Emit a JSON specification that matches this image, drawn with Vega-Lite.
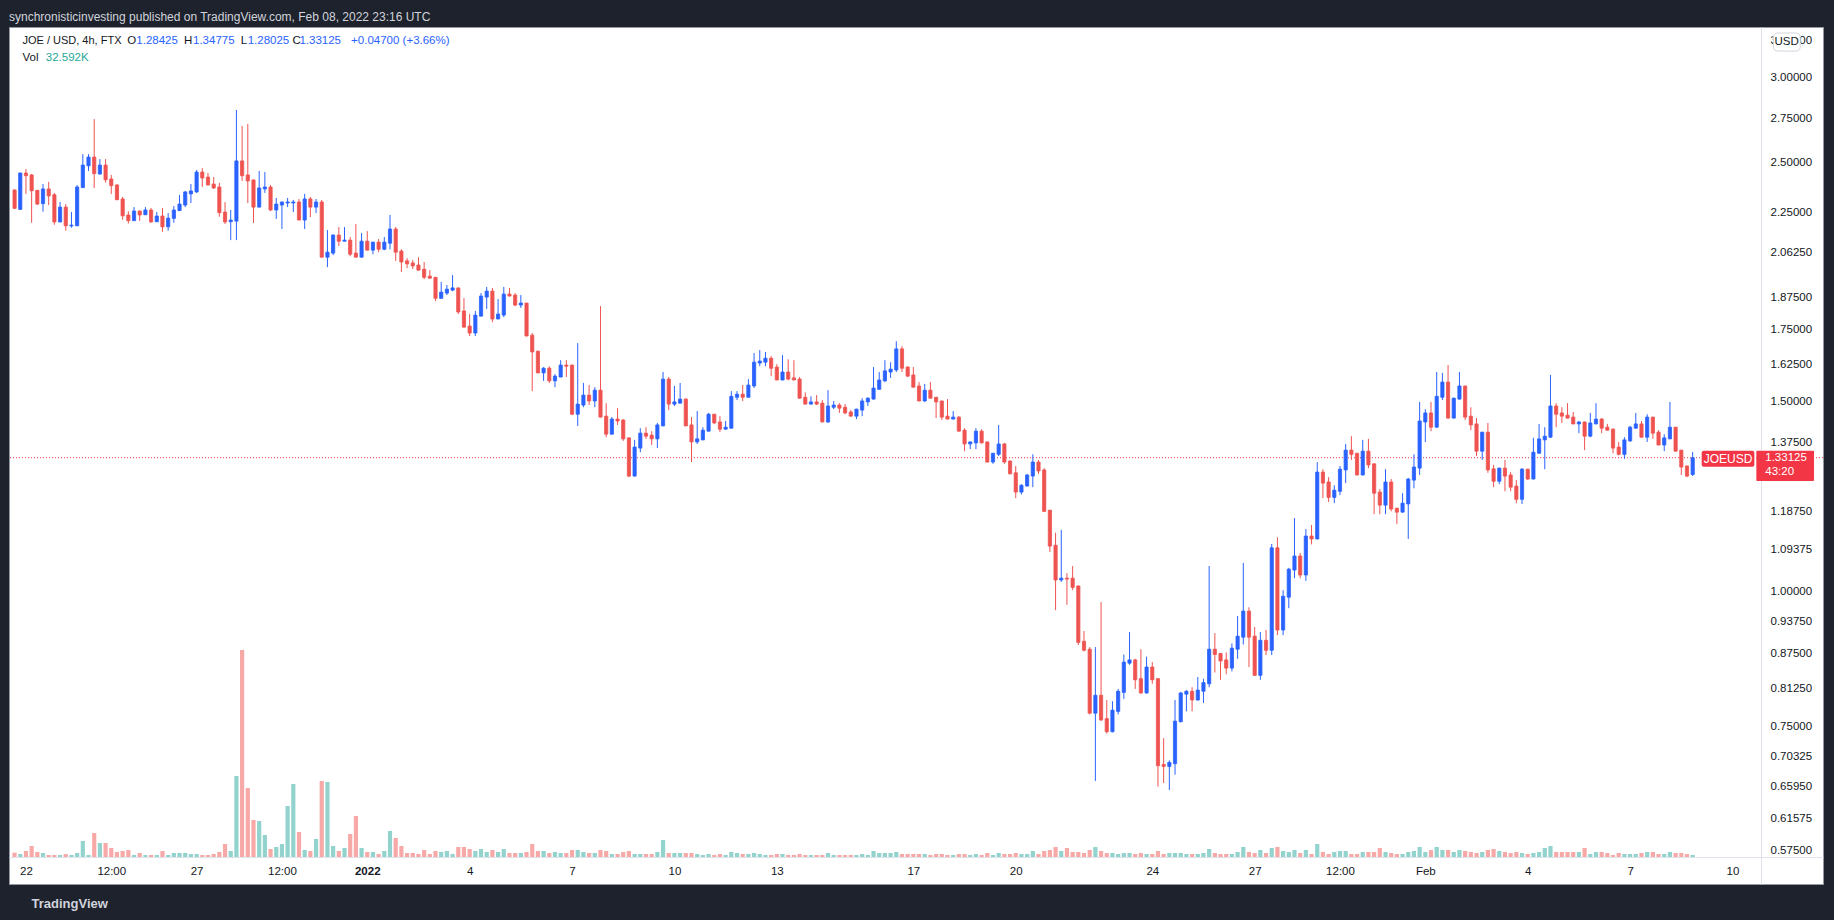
{
  "$schema": "https://vega.github.io/schema/vega-lite/v6.json",
  "width": 1814,
  "height": 857,
  "autosize": {"type": "none"},
  "padding": {"left": 9, "top": 27, "right": 11, "bottom": 36},
  "background": "#1e222d",
  "title": {
    "text": "synchronisticinvesting published on TradingView.com, Feb 08, 2022 23:16 UTC",
    "anchor": "start",
    "frame": "group",
    "offset": -2,
    "baseline": "middle",
    "color": "#d1d4dc",
    "fontSize": 12,
    "fontWeight": "normal"
  },
  "datasets": {
    "bars": [
      {"t":"2021-12-21T16:00Z","o":2.360,"h":2.362,"l":2.265,"c":2.269,"v":69},
      {"t":"2021-12-21T20:00Z","o":2.264,"h":2.449,"l":2.261,"c":2.447,"v":48},
      {"t":"2021-12-22T00:00Z","o":2.447,"h":2.468,"l":2.340,"c":2.433,"v":96},
      {"t":"2021-12-22T04:00Z","o":2.437,"h":2.442,"l":2.200,"c":2.356,"v":176},
      {"t":"2021-12-22T08:00Z","o":2.358,"h":2.360,"l":2.285,"c":2.290,"v":80},
      {"t":"2021-12-22T12:00Z","o":2.292,"h":2.390,"l":2.253,"c":2.365,"v":64},
      {"t":"2021-12-22T16:00Z","o":2.365,"h":2.401,"l":2.285,"c":2.330,"v":32},
      {"t":"2021-12-22T20:00Z","o":2.336,"h":2.345,"l":2.191,"c":2.204,"v":32},
      {"t":"2021-12-23T00:00Z","o":2.204,"h":2.300,"l":2.202,"c":2.275,"v":32},
      {"t":"2021-12-23T04:00Z","o":2.275,"h":2.290,"l":2.163,"c":2.186,"v":48},
      {"t":"2021-12-23T08:00Z","o":2.185,"h":2.251,"l":2.177,"c":2.189,"v":32},
      {"t":"2021-12-23T12:00Z","o":2.186,"h":2.385,"l":2.184,"c":2.375,"v":64},
      {"t":"2021-12-23T16:00Z","o":2.372,"h":2.548,"l":2.371,"c":2.489,"v":256},
      {"t":"2021-12-23T20:00Z","o":2.485,"h":2.548,"l":2.458,"c":2.532,"v":32},
      {"t":"2021-12-24T00:00Z","o":2.532,"h":2.746,"l":2.370,"c":2.444,"v":384},
      {"t":"2021-12-24T04:00Z","o":2.442,"h":2.521,"l":2.437,"c":2.489,"v":224},
      {"t":"2021-12-24T08:00Z","o":2.489,"h":2.521,"l":2.397,"c":2.412,"v":224},
      {"t":"2021-12-24T12:00Z","o":2.416,"h":2.437,"l":2.340,"c":2.382,"v":144},
      {"t":"2021-12-24T16:00Z","o":2.385,"h":2.390,"l":2.310,"c":2.311,"v":80},
      {"t":"2021-12-24T20:00Z","o":2.315,"h":2.325,"l":2.214,"c":2.233,"v":96},
      {"t":"2021-12-25T00:00Z","o":2.237,"h":2.255,"l":2.196,"c":2.210,"v":112},
      {"t":"2021-12-25T04:00Z","o":2.210,"h":2.275,"l":2.209,"c":2.256,"v":32},
      {"t":"2021-12-25T08:00Z","o":2.256,"h":2.258,"l":2.209,"c":2.237,"v":64},
      {"t":"2021-12-25T12:00Z","o":2.238,"h":2.275,"l":2.237,"c":2.261,"v":32},
      {"t":"2021-12-25T16:00Z","o":2.261,"h":2.271,"l":2.200,"c":2.204,"v":32},
      {"t":"2021-12-25T20:00Z","o":2.205,"h":2.251,"l":2.204,"c":2.232,"v":32},
      {"t":"2021-12-26T00:00Z","o":2.232,"h":2.271,"l":2.158,"c":2.181,"v":96},
      {"t":"2021-12-26T04:00Z","o":2.181,"h":2.246,"l":2.163,"c":2.222,"v":32},
      {"t":"2021-12-26T08:00Z","o":2.221,"h":2.280,"l":2.200,"c":2.261,"v":64},
      {"t":"2021-12-26T12:00Z","o":2.258,"h":2.335,"l":2.257,"c":2.290,"v":64},
      {"t":"2021-12-26T16:00Z","o":2.285,"h":2.355,"l":2.275,"c":2.350,"v":64},
      {"t":"2021-12-26T20:00Z","o":2.340,"h":2.390,"l":2.295,"c":2.355,"v":48},
      {"t":"2021-12-27T00:00Z","o":2.350,"h":2.463,"l":2.345,"c":2.452,"v":48},
      {"t":"2021-12-27T04:00Z","o":2.452,"h":2.473,"l":2.375,"c":2.421,"v":32},
      {"t":"2021-12-27T08:00Z","o":2.426,"h":2.447,"l":2.384,"c":2.385,"v":32},
      {"t":"2021-12-27T12:00Z","o":2.390,"h":2.426,"l":2.365,"c":2.370,"v":48},
      {"t":"2021-12-27T16:00Z","o":2.375,"h":2.396,"l":2.229,"c":2.248,"v":80},
      {"t":"2021-12-27T20:00Z","o":2.251,"h":2.300,"l":2.194,"c":2.204,"v":208},
      {"t":"2021-12-28T00:00Z","o":2.205,"h":2.261,"l":2.120,"c":2.213,"v":96},
      {"t":"2021-12-28T04:00Z","o":2.208,"h":2.800,"l":2.120,"c":2.511,"v":1296},
      {"t":"2021-12-28T08:00Z","o":2.511,"h":2.706,"l":2.406,"c":2.433,"v":3312},
      {"t":"2021-12-28T12:00Z","o":2.437,"h":2.718,"l":2.295,"c":2.406,"v":1104},
      {"t":"2021-12-28T16:00Z","o":2.411,"h":2.413,"l":2.199,"c":2.275,"v":592},
      {"t":"2021-12-28T20:00Z","o":2.275,"h":2.458,"l":2.274,"c":2.370,"v":576},
      {"t":"2021-12-29T00:00Z","o":2.365,"h":2.452,"l":2.345,"c":2.375,"v":352},
      {"t":"2021-12-29T04:00Z","o":2.375,"h":2.385,"l":2.256,"c":2.261,"v":128},
      {"t":"2021-12-29T08:00Z","o":2.261,"h":2.320,"l":2.218,"c":2.290,"v":160},
      {"t":"2021-12-29T12:00Z","o":2.285,"h":2.302,"l":2.171,"c":2.300,"v":208},
      {"t":"2021-12-29T16:00Z","o":2.295,"h":2.320,"l":2.275,"c":2.300,"v":816},
      {"t":"2021-12-29T20:00Z","o":2.295,"h":2.310,"l":2.251,"c":2.300,"v":1168},
      {"t":"2021-12-30T00:00Z","o":2.300,"h":2.315,"l":2.212,"c":2.213,"v":400},
      {"t":"2021-12-30T04:00Z","o":2.213,"h":2.340,"l":2.171,"c":2.315,"v":112},
      {"t":"2021-12-30T08:00Z","o":2.315,"h":2.325,"l":2.227,"c":2.275,"v":96},
      {"t":"2021-12-30T12:00Z","o":2.275,"h":2.315,"l":2.246,"c":2.300,"v":288},
      {"t":"2021-12-30T16:00Z","o":2.300,"h":2.310,"l":2.043,"c":2.044,"v":1216},
      {"t":"2021-12-30T20:00Z","o":2.044,"h":2.166,"l":2.001,"c":2.066,"v":1200},
      {"t":"2021-12-31T00:00Z","o":2.062,"h":2.147,"l":2.053,"c":2.143,"v":176},
      {"t":"2021-12-31T04:00Z","o":2.143,"h":2.180,"l":2.093,"c":2.115,"v":96},
      {"t":"2021-12-31T08:00Z","o":2.115,"h":2.180,"l":2.114,"c":2.120,"v":144},
      {"t":"2021-12-31T12:00Z","o":2.120,"h":2.134,"l":2.048,"c":2.057,"v":368},
      {"t":"2021-12-31T16:00Z","o":2.062,"h":2.194,"l":2.043,"c":2.044,"v":656},
      {"t":"2021-12-31T20:00Z","o":2.044,"h":2.152,"l":2.043,"c":2.115,"v":144},
      {"t":"2022-01-01T00:00Z","o":2.115,"h":2.161,"l":2.074,"c":2.075,"v":80},
      {"t":"2022-01-01T04:00Z","o":2.075,"h":2.112,"l":2.057,"c":2.111,"v":80},
      {"t":"2022-01-01T08:00Z","o":2.111,"h":2.125,"l":2.066,"c":2.079,"v":48},
      {"t":"2022-01-01T12:00Z","o":2.079,"h":2.134,"l":2.075,"c":2.111,"v":96},
      {"t":"2022-01-01T16:00Z","o":2.106,"h":2.237,"l":2.078,"c":2.171,"v":416},
      {"t":"2022-01-01T20:00Z","o":2.171,"h":2.180,"l":2.028,"c":2.066,"v":304},
      {"t":"2022-01-02T00:00Z","o":2.071,"h":2.079,"l":1.980,"c":2.023,"v":176},
      {"t":"2022-01-02T04:00Z","o":2.028,"h":2.040,"l":1.997,"c":2.015,"v":64},
      {"t":"2022-01-02T08:00Z","o":2.019,"h":2.032,"l":1.993,"c":2.006,"v":64},
      {"t":"2022-01-02T12:00Z","o":2.010,"h":2.044,"l":1.987,"c":1.988,"v":48},
      {"t":"2022-01-02T16:00Z","o":1.992,"h":2.023,"l":1.950,"c":1.958,"v":112},
      {"t":"2022-01-02T20:00Z","o":1.963,"h":1.988,"l":1.953,"c":1.954,"v":48},
      {"t":"2022-01-03T00:00Z","o":1.958,"h":1.959,"l":1.861,"c":1.872,"v":96},
      {"t":"2022-01-03T04:00Z","o":1.872,"h":1.939,"l":1.871,"c":1.897,"v":80},
      {"t":"2022-01-03T08:00Z","o":1.893,"h":1.926,"l":1.885,"c":1.909,"v":96},
      {"t":"2022-01-03T12:00Z","o":1.905,"h":1.967,"l":1.901,"c":1.914,"v":48},
      {"t":"2022-01-03T16:00Z","o":1.914,"h":1.915,"l":1.810,"c":1.818,"v":160},
      {"t":"2022-01-03T20:00Z","o":1.822,"h":1.873,"l":1.759,"c":1.760,"v":160},
      {"t":"2022-01-04T00:00Z","o":1.764,"h":1.810,"l":1.727,"c":1.738,"v":128},
      {"t":"2022-01-04T04:00Z","o":1.738,"h":1.822,"l":1.727,"c":1.806,"v":96},
      {"t":"2022-01-04T08:00Z","o":1.802,"h":1.893,"l":1.801,"c":1.881,"v":128},
      {"t":"2022-01-04T12:00Z","o":1.877,"h":1.918,"l":1.830,"c":1.901,"v":80},
      {"t":"2022-01-04T16:00Z","o":1.901,"h":1.914,"l":1.779,"c":1.791,"v":112},
      {"t":"2022-01-04T20:00Z","o":1.791,"h":1.869,"l":1.790,"c":1.810,"v":80},
      {"t":"2022-01-05T00:00Z","o":1.806,"h":1.918,"l":1.798,"c":1.889,"v":128},
      {"t":"2022-01-05T04:00Z","o":1.889,"h":1.914,"l":1.880,"c":1.881,"v":64},
      {"t":"2022-01-05T08:00Z","o":1.885,"h":1.893,"l":1.841,"c":1.845,"v":64},
      {"t":"2022-01-05T12:00Z","o":1.845,"h":1.885,"l":1.834,"c":1.853,"v":64},
      {"t":"2022-01-05T16:00Z","o":1.853,"h":1.854,"l":1.726,"c":1.727,"v":80},
      {"t":"2022-01-05T20:00Z","o":1.730,"h":1.738,"l":1.535,"c":1.669,"v":208},
      {"t":"2022-01-06T00:00Z","o":1.672,"h":1.673,"l":1.595,"c":1.596,"v":96},
      {"t":"2022-01-06T04:00Z","o":1.596,"h":1.616,"l":1.569,"c":1.612,"v":96},
      {"t":"2022-01-06T08:00Z","o":1.612,"h":1.619,"l":1.562,"c":1.569,"v":64},
      {"t":"2022-01-06T12:00Z","o":1.569,"h":1.592,"l":1.548,"c":1.585,"v":80},
      {"t":"2022-01-06T16:00Z","o":1.582,"h":1.640,"l":1.581,"c":1.623,"v":64},
      {"t":"2022-01-06T20:00Z","o":1.623,"h":1.640,"l":1.582,"c":1.619,"v":64},
      {"t":"2022-01-07T00:00Z","o":1.623,"h":1.624,"l":1.458,"c":1.461,"v":112},
      {"t":"2022-01-07T04:00Z","o":1.461,"h":1.701,"l":1.425,"c":1.493,"v":112},
      {"t":"2022-01-07T08:00Z","o":1.490,"h":1.562,"l":1.483,"c":1.522,"v":80},
      {"t":"2022-01-07T12:00Z","o":1.522,"h":1.555,"l":1.490,"c":1.503,"v":64},
      {"t":"2022-01-07T16:00Z","o":1.503,"h":1.548,"l":1.483,"c":1.538,"v":64},
      {"t":"2022-01-07T20:00Z","o":1.538,"h":1.841,"l":1.451,"c":1.452,"v":112},
      {"t":"2022-01-08T00:00Z","o":1.455,"h":1.496,"l":1.391,"c":1.400,"v":96},
      {"t":"2022-01-08T04:00Z","o":1.400,"h":1.452,"l":1.399,"c":1.446,"v":48},
      {"t":"2022-01-08T08:00Z","o":1.446,"h":1.480,"l":1.428,"c":1.440,"v":48},
      {"t":"2022-01-08T12:00Z","o":1.443,"h":1.446,"l":1.380,"c":1.386,"v":80},
      {"t":"2022-01-08T16:00Z","o":1.389,"h":1.390,"l":1.277,"c":1.280,"v":96},
      {"t":"2022-01-08T20:00Z","o":1.280,"h":1.383,"l":1.279,"c":1.362,"v":48},
      {"t":"2022-01-09T00:00Z","o":1.359,"h":1.418,"l":1.347,"c":1.403,"v":48},
      {"t":"2022-01-09T04:00Z","o":1.403,"h":1.421,"l":1.386,"c":1.394,"v":48},
      {"t":"2022-01-09T08:00Z","o":1.397,"h":1.409,"l":1.368,"c":1.386,"v":48},
      {"t":"2022-01-09T12:00Z","o":1.386,"h":1.434,"l":1.359,"c":1.428,"v":80},
      {"t":"2022-01-09T16:00Z","o":1.425,"h":1.599,"l":1.424,"c":1.575,"v":272},
      {"t":"2022-01-09T20:00Z","o":1.575,"h":1.582,"l":1.474,"c":1.493,"v":64},
      {"t":"2022-01-10T00:00Z","o":1.493,"h":1.552,"l":1.487,"c":1.500,"v":64},
      {"t":"2022-01-10T04:00Z","o":1.496,"h":1.562,"l":1.495,"c":1.509,"v":64},
      {"t":"2022-01-10T08:00Z","o":1.509,"h":1.512,"l":1.424,"c":1.425,"v":64},
      {"t":"2022-01-10T12:00Z","o":1.428,"h":1.452,"l":1.319,"c":1.377,"v":64},
      {"t":"2022-01-10T16:00Z","o":1.377,"h":1.471,"l":1.371,"c":1.386,"v":48},
      {"t":"2022-01-10T20:00Z","o":1.383,"h":1.421,"l":1.382,"c":1.412,"v":32},
      {"t":"2022-01-11T00:00Z","o":1.409,"h":1.465,"l":1.408,"c":1.461,"v":48},
      {"t":"2022-01-11T04:00Z","o":1.461,"h":1.462,"l":1.431,"c":1.434,"v":32},
      {"t":"2022-01-11T08:00Z","o":1.437,"h":1.455,"l":1.406,"c":1.415,"v":48},
      {"t":"2022-01-11T12:00Z","o":1.415,"h":1.440,"l":1.414,"c":1.421,"v":32},
      {"t":"2022-01-11T16:00Z","o":1.418,"h":1.535,"l":1.417,"c":1.518,"v":80},
      {"t":"2022-01-11T20:00Z","o":1.515,"h":1.535,"l":1.506,"c":1.525,"v":64},
      {"t":"2022-01-12T00:00Z","o":1.525,"h":1.555,"l":1.503,"c":1.515,"v":48},
      {"t":"2022-01-12T04:00Z","o":1.515,"h":1.575,"l":1.514,"c":1.555,"v":48},
      {"t":"2022-01-12T08:00Z","o":1.552,"h":1.665,"l":1.545,"c":1.633,"v":64},
      {"t":"2022-01-12T12:00Z","o":1.630,"h":1.676,"l":1.619,"c":1.637,"v":48},
      {"t":"2022-01-12T16:00Z","o":1.633,"h":1.669,"l":1.619,"c":1.647,"v":32},
      {"t":"2022-01-12T20:00Z","o":1.647,"h":1.654,"l":1.585,"c":1.612,"v":32},
      {"t":"2022-01-13T00:00Z","o":1.616,"h":1.626,"l":1.571,"c":1.572,"v":48},
      {"t":"2022-01-13T04:00Z","o":1.572,"h":1.658,"l":1.571,"c":1.599,"v":48},
      {"t":"2022-01-13T08:00Z","o":1.599,"h":1.643,"l":1.571,"c":1.575,"v":32},
      {"t":"2022-01-13T12:00Z","o":1.579,"h":1.640,"l":1.571,"c":1.572,"v":32},
      {"t":"2022-01-13T16:00Z","o":1.575,"h":1.582,"l":1.511,"c":1.512,"v":48},
      {"t":"2022-01-13T20:00Z","o":1.515,"h":1.531,"l":1.492,"c":1.493,"v":32},
      {"t":"2022-01-14T00:00Z","o":1.493,"h":1.518,"l":1.492,"c":1.500,"v":32},
      {"t":"2022-01-14T04:00Z","o":1.500,"h":1.522,"l":1.490,"c":1.493,"v":32},
      {"t":"2022-01-14T08:00Z","o":1.496,"h":1.506,"l":1.436,"c":1.437,"v":32},
      {"t":"2022-01-14T12:00Z","o":1.437,"h":1.538,"l":1.434,"c":1.487,"v":64},
      {"t":"2022-01-14T16:00Z","o":1.483,"h":1.503,"l":1.477,"c":1.490,"v":32},
      {"t":"2022-01-14T20:00Z","o":1.490,"h":1.496,"l":1.465,"c":1.480,"v":32},
      {"t":"2022-01-15T00:00Z","o":1.483,"h":1.493,"l":1.461,"c":1.465,"v":32},
      {"t":"2022-01-15T04:00Z","o":1.468,"h":1.474,"l":1.454,"c":1.455,"v":32},
      {"t":"2022-01-15T08:00Z","o":1.455,"h":1.478,"l":1.446,"c":1.477,"v":32},
      {"t":"2022-01-15T12:00Z","o":1.474,"h":1.512,"l":1.455,"c":1.503,"v":48},
      {"t":"2022-01-15T16:00Z","o":1.500,"h":1.515,"l":1.487,"c":1.512,"v":32},
      {"t":"2022-01-15T20:00Z","o":1.509,"h":1.616,"l":1.508,"c":1.545,"v":96},
      {"t":"2022-01-16T00:00Z","o":1.541,"h":1.599,"l":1.540,"c":1.572,"v":64},
      {"t":"2022-01-16T04:00Z","o":1.569,"h":1.640,"l":1.565,"c":1.603,"v":64},
      {"t":"2022-01-16T08:00Z","o":1.599,"h":1.633,"l":1.579,"c":1.609,"v":64},
      {"t":"2022-01-16T12:00Z","o":1.606,"h":1.708,"l":1.599,"c":1.680,"v":80},
      {"t":"2022-01-16T16:00Z","o":1.680,"h":1.690,"l":1.599,"c":1.612,"v":48},
      {"t":"2022-01-16T20:00Z","o":1.616,"h":1.619,"l":1.582,"c":1.585,"v":48},
      {"t":"2022-01-17T00:00Z","o":1.589,"h":1.616,"l":1.547,"c":1.548,"v":48},
      {"t":"2022-01-17T04:00Z","o":1.552,"h":1.565,"l":1.502,"c":1.503,"v":48},
      {"t":"2022-01-17T08:00Z","o":1.503,"h":1.559,"l":1.500,"c":1.538,"v":48},
      {"t":"2022-01-17T12:00Z","o":1.538,"h":1.565,"l":1.511,"c":1.512,"v":32},
      {"t":"2022-01-17T16:00Z","o":1.515,"h":1.516,"l":1.449,"c":1.500,"v":48},
      {"t":"2022-01-17T20:00Z","o":1.503,"h":1.504,"l":1.443,"c":1.452,"v":48},
      {"t":"2022-01-18T00:00Z","o":1.455,"h":1.509,"l":1.445,"c":1.446,"v":32},
      {"t":"2022-01-18T04:00Z","o":1.446,"h":1.471,"l":1.445,"c":1.452,"v":32},
      {"t":"2022-01-18T08:00Z","o":1.452,"h":1.455,"l":1.408,"c":1.409,"v":48},
      {"t":"2022-01-18T12:00Z","o":1.412,"h":1.418,"l":1.350,"c":1.371,"v":48},
      {"t":"2022-01-18T16:00Z","o":1.371,"h":1.378,"l":1.356,"c":1.377,"v":32},
      {"t":"2022-01-18T20:00Z","o":1.374,"h":1.418,"l":1.356,"c":1.409,"v":48},
      {"t":"2022-01-19T00:00Z","o":1.409,"h":1.415,"l":1.373,"c":1.374,"v":32},
      {"t":"2022-01-19T04:00Z","o":1.377,"h":1.378,"l":1.318,"c":1.319,"v":64},
      {"t":"2022-01-19T08:00Z","o":1.319,"h":1.345,"l":1.314,"c":1.344,"v":32},
      {"t":"2022-01-19T12:00Z","o":1.341,"h":1.428,"l":1.336,"c":1.371,"v":64},
      {"t":"2022-01-19T16:00Z","o":1.371,"h":1.374,"l":1.314,"c":1.319,"v":48},
      {"t":"2022-01-19T20:00Z","o":1.322,"h":1.323,"l":1.285,"c":1.286,"v":48},
      {"t":"2022-01-20T00:00Z","o":1.289,"h":1.308,"l":1.221,"c":1.237,"v":64},
      {"t":"2022-01-20T04:00Z","o":1.237,"h":1.258,"l":1.231,"c":1.255,"v":48},
      {"t":"2022-01-20T08:00Z","o":1.253,"h":1.286,"l":1.252,"c":1.283,"v":48},
      {"t":"2022-01-20T12:00Z","o":1.280,"h":1.341,"l":1.250,"c":1.319,"v":96},
      {"t":"2022-01-20T16:00Z","o":1.319,"h":1.325,"l":1.286,"c":1.294,"v":48},
      {"t":"2022-01-20T20:00Z","o":1.297,"h":1.302,"l":1.186,"c":1.187,"v":96},
      {"t":"2022-01-21T00:00Z","o":1.190,"h":1.191,"l":1.088,"c":1.102,"v":112},
      {"t":"2022-01-21T04:00Z","o":1.104,"h":1.134,"l":0.961,"c":1.025,"v":160},
      {"t":"2022-01-21T08:00Z","o":1.025,"h":1.141,"l":1.021,"c":1.029,"v":96},
      {"t":"2022-01-21T12:00Z","o":1.029,"h":1.040,"l":0.972,"c":1.027,"v":144},
      {"t":"2022-01-21T16:00Z","o":1.029,"h":1.056,"l":1.003,"c":1.009,"v":80},
      {"t":"2022-01-21T20:00Z","o":1.012,"h":1.013,"l":0.892,"c":0.897,"v":80},
      {"t":"2022-01-22T00:00Z","o":0.899,"h":0.919,"l":0.880,"c":0.882,"v":64},
      {"t":"2022-01-22T04:00Z","o":0.884,"h":0.888,"l":0.769,"c":0.771,"v":112},
      {"t":"2022-01-22T08:00Z","o":0.771,"h":0.888,"l":0.667,"c":0.801,"v":160},
      {"t":"2022-01-22T12:00Z","o":0.801,"h":0.978,"l":0.758,"c":0.760,"v":96},
      {"t":"2022-01-22T16:00Z","o":0.762,"h":0.793,"l":0.738,"c":0.741,"v":64},
      {"t":"2022-01-22T20:00Z","o":0.741,"h":0.791,"l":0.740,"c":0.776,"v":64},
      {"t":"2022-01-23T00:00Z","o":0.774,"h":0.812,"l":0.769,"c":0.808,"v":48},
      {"t":"2022-01-23T04:00Z","o":0.806,"h":0.874,"l":0.795,"c":0.860,"v":64},
      {"t":"2022-01-23T08:00Z","o":0.858,"h":0.917,"l":0.855,"c":0.864,"v":64},
      {"t":"2022-01-23T12:00Z","o":0.864,"h":0.866,"l":0.812,"c":0.828,"v":48},
      {"t":"2022-01-23T16:00Z","o":0.830,"h":0.884,"l":0.804,"c":0.805,"v":64},
      {"t":"2022-01-23T20:00Z","o":0.805,"h":0.870,"l":0.804,"c":0.851,"v":48},
      {"t":"2022-01-24T00:00Z","o":0.851,"h":0.860,"l":0.821,"c":0.828,"v":48},
      {"t":"2022-01-24T04:00Z","o":0.830,"h":0.831,"l":0.659,"c":0.689,"v":96},
      {"t":"2022-01-24T08:00Z","o":0.691,"h":0.731,"l":0.664,"c":0.688,"v":48},
      {"t":"2022-01-24T12:00Z","o":0.688,"h":0.697,"l":0.654,"c":0.694,"v":64},
      {"t":"2022-01-24T16:00Z","o":0.692,"h":0.793,"l":0.676,"c":0.758,"v":64},
      {"t":"2022-01-24T20:00Z","o":0.757,"h":0.807,"l":0.756,"c":0.805,"v":64},
      {"t":"2022-01-25T00:00Z","o":0.803,"h":0.810,"l":0.774,"c":0.808,"v":48},
      {"t":"2022-01-25T04:00Z","o":0.808,"h":0.815,"l":0.774,"c":0.793,"v":48},
      {"t":"2022-01-25T08:00Z","o":0.793,"h":0.833,"l":0.792,"c":0.810,"v":48},
      {"t":"2022-01-25T12:00Z","o":0.808,"h":0.830,"l":0.788,"c":0.823,"v":64},
      {"t":"2022-01-25T16:00Z","o":0.821,"h":1.056,"l":0.815,"c":0.884,"v":128},
      {"t":"2022-01-25T20:00Z","o":0.884,"h":0.915,"l":0.841,"c":0.874,"v":64},
      {"t":"2022-01-26T00:00Z","o":0.876,"h":0.877,"l":0.828,"c":0.862,"v":48},
      {"t":"2022-01-26T04:00Z","o":0.864,"h":0.878,"l":0.838,"c":0.849,"v":48},
      {"t":"2022-01-26T08:00Z","o":0.849,"h":0.895,"l":0.843,"c":0.886,"v":48},
      {"t":"2022-01-26T12:00Z","o":0.884,"h":0.949,"l":0.866,"c":0.909,"v":80},
      {"t":"2022-01-26T16:00Z","o":0.907,"h":1.063,"l":0.893,"c":0.959,"v":160},
      {"t":"2022-01-26T20:00Z","o":0.959,"h":0.967,"l":0.851,"c":0.907,"v":80},
      {"t":"2022-01-27T00:00Z","o":0.909,"h":0.927,"l":0.835,"c":0.836,"v":64},
      {"t":"2022-01-27T04:00Z","o":0.836,"h":0.917,"l":0.828,"c":0.901,"v":112},
      {"t":"2022-01-27T08:00Z","o":0.901,"h":0.921,"l":0.873,"c":0.882,"v":64},
      {"t":"2022-01-27T12:00Z","o":0.882,"h":1.107,"l":0.873,"c":1.098,"v":144},
      {"t":"2022-01-27T16:00Z","o":1.098,"h":1.123,"l":0.911,"c":0.921,"v":160},
      {"t":"2022-01-27T20:00Z","o":0.921,"h":1.003,"l":0.911,"c":0.990,"v":96},
      {"t":"2022-01-28T00:00Z","o":0.988,"h":1.052,"l":0.965,"c":1.049,"v":80},
      {"t":"2022-01-28T04:00Z","o":1.047,"h":1.170,"l":1.029,"c":1.079,"v":112},
      {"t":"2022-01-28T08:00Z","o":1.079,"h":1.086,"l":1.029,"c":1.036,"v":64},
      {"t":"2022-01-28T12:00Z","o":1.036,"h":1.143,"l":1.023,"c":1.126,"v":112},
      {"t":"2022-01-28T16:00Z","o":1.126,"h":1.153,"l":1.106,"c":1.119,"v":48},
      {"t":"2022-01-28T20:00Z","o":1.119,"h":1.319,"l":1.118,"c":1.291,"v":208},
      {"t":"2022-01-29T00:00Z","o":1.291,"h":1.299,"l":1.221,"c":1.261,"v":80},
      {"t":"2022-01-29T04:00Z","o":1.264,"h":1.277,"l":1.211,"c":1.223,"v":48},
      {"t":"2022-01-29T08:00Z","o":1.223,"h":1.255,"l":1.208,"c":1.242,"v":80},
      {"t":"2022-01-29T12:00Z","o":1.239,"h":1.308,"l":1.229,"c":1.299,"v":96},
      {"t":"2022-01-29T16:00Z","o":1.297,"h":1.371,"l":1.261,"c":1.353,"v":96},
      {"t":"2022-01-29T20:00Z","o":1.353,"h":1.394,"l":1.325,"c":1.341,"v":48},
      {"t":"2022-01-30T00:00Z","o":1.344,"h":1.345,"l":1.282,"c":1.283,"v":48},
      {"t":"2022-01-30T04:00Z","o":1.283,"h":1.383,"l":1.282,"c":1.350,"v":80},
      {"t":"2022-01-30T08:00Z","o":1.350,"h":1.386,"l":1.302,"c":1.311,"v":80},
      {"t":"2022-01-30T12:00Z","o":1.314,"h":1.315,"l":1.180,"c":1.234,"v":80},
      {"t":"2022-01-30T16:00Z","o":1.237,"h":1.245,"l":1.180,"c":1.203,"v":144},
      {"t":"2022-01-30T20:00Z","o":1.203,"h":1.299,"l":1.180,"c":1.264,"v":80},
      {"t":"2022-01-31T00:00Z","o":1.264,"h":1.272,"l":1.187,"c":1.193,"v":64},
      {"t":"2022-01-31T04:00Z","o":1.195,"h":1.196,"l":1.155,"c":1.185,"v":48},
      {"t":"2022-01-31T08:00Z","o":1.185,"h":1.234,"l":1.184,"c":1.208,"v":48},
      {"t":"2022-01-31T12:00Z","o":1.206,"h":1.275,"l":1.119,"c":1.272,"v":80},
      {"t":"2022-01-31T16:00Z","o":1.269,"h":1.341,"l":1.247,"c":1.305,"v":96},
      {"t":"2022-01-31T20:00Z","o":1.302,"h":1.500,"l":1.283,"c":1.440,"v":160},
      {"t":"2022-02-01T00:00Z","o":1.437,"h":1.477,"l":1.377,"c":1.465,"v":80},
      {"t":"2022-02-01T04:00Z","o":1.465,"h":1.500,"l":1.409,"c":1.421,"v":112},
      {"t":"2022-02-01T08:00Z","o":1.421,"h":1.599,"l":1.420,"c":1.518,"v":160},
      {"t":"2022-02-01T12:00Z","o":1.515,"h":1.596,"l":1.506,"c":1.565,"v":112},
      {"t":"2022-02-01T16:00Z","o":1.565,"h":1.623,"l":1.448,"c":1.449,"v":112},
      {"t":"2022-02-01T20:00Z","o":1.449,"h":1.514,"l":1.448,"c":1.512,"v":80},
      {"t":"2022-02-02T00:00Z","o":1.509,"h":1.599,"l":1.508,"c":1.552,"v":112},
      {"t":"2022-02-02T04:00Z","o":1.552,"h":1.553,"l":1.443,"c":1.452,"v":96},
      {"t":"2022-02-02T08:00Z","o":1.455,"h":1.483,"l":1.412,"c":1.428,"v":80},
      {"t":"2022-02-02T12:00Z","o":1.431,"h":1.449,"l":1.336,"c":1.350,"v":64},
      {"t":"2022-02-02T16:00Z","o":1.350,"h":1.407,"l":1.325,"c":1.406,"v":80},
      {"t":"2022-02-02T20:00Z","o":1.406,"h":1.434,"l":1.289,"c":1.297,"v":112},
      {"t":"2022-02-03T00:00Z","o":1.300,"h":1.311,"l":1.250,"c":1.266,"v":128},
      {"t":"2022-02-03T04:00Z","o":1.266,"h":1.303,"l":1.258,"c":1.302,"v":96},
      {"t":"2022-02-03T08:00Z","o":1.302,"h":1.325,"l":1.239,"c":1.280,"v":80},
      {"t":"2022-02-03T12:00Z","o":1.283,"h":1.291,"l":1.239,"c":1.250,"v":64},
      {"t":"2022-02-03T16:00Z","o":1.253,"h":1.269,"l":1.208,"c":1.218,"v":80},
      {"t":"2022-02-03T20:00Z","o":1.218,"h":1.302,"l":1.206,"c":1.299,"v":64},
      {"t":"2022-02-04T00:00Z","o":1.299,"h":1.300,"l":1.269,"c":1.272,"v":48},
      {"t":"2022-02-04T04:00Z","o":1.272,"h":1.389,"l":1.271,"c":1.347,"v":64},
      {"t":"2022-02-04T08:00Z","o":1.344,"h":1.431,"l":1.343,"c":1.386,"v":80},
      {"t":"2022-02-04T12:00Z","o":1.383,"h":1.421,"l":1.299,"c":1.394,"v":144},
      {"t":"2022-02-04T16:00Z","o":1.391,"h":1.589,"l":1.389,"c":1.487,"v":176},
      {"t":"2022-02-04T20:00Z","o":1.487,"h":1.496,"l":1.421,"c":1.461,"v":80},
      {"t":"2022-02-05T00:00Z","o":1.465,"h":1.483,"l":1.434,"c":1.455,"v":80},
      {"t":"2022-02-05T04:00Z","o":1.458,"h":1.496,"l":1.448,"c":1.449,"v":80},
      {"t":"2022-02-05T08:00Z","o":1.452,"h":1.468,"l":1.430,"c":1.431,"v":80},
      {"t":"2022-02-05T12:00Z","o":1.431,"h":1.440,"l":1.403,"c":1.437,"v":80},
      {"t":"2022-02-05T16:00Z","o":1.437,"h":1.438,"l":1.353,"c":1.394,"v":144},
      {"t":"2022-02-05T20:00Z","o":1.394,"h":1.465,"l":1.391,"c":1.434,"v":48},
      {"t":"2022-02-06T00:00Z","o":1.431,"h":1.496,"l":1.430,"c":1.446,"v":80},
      {"t":"2022-02-06T04:00Z","o":1.446,"h":1.449,"l":1.403,"c":1.418,"v":80},
      {"t":"2022-02-06T08:00Z","o":1.421,"h":1.431,"l":1.411,"c":1.412,"v":64},
      {"t":"2022-02-06T12:00Z","o":1.415,"h":1.418,"l":1.344,"c":1.359,"v":32},
      {"t":"2022-02-06T16:00Z","o":1.362,"h":1.377,"l":1.338,"c":1.341,"v":64},
      {"t":"2022-02-06T20:00Z","o":1.341,"h":1.391,"l":1.328,"c":1.383,"v":48},
      {"t":"2022-02-07T00:00Z","o":1.380,"h":1.425,"l":1.377,"c":1.421,"v":48},
      {"t":"2022-02-07T04:00Z","o":1.418,"h":1.465,"l":1.417,"c":1.431,"v":48},
      {"t":"2022-02-07T08:00Z","o":1.431,"h":1.440,"l":1.390,"c":1.391,"v":64},
      {"t":"2022-02-07T12:00Z","o":1.391,"h":1.461,"l":1.377,"c":1.452,"v":80},
      {"t":"2022-02-07T16:00Z","o":1.452,"h":1.453,"l":1.386,"c":1.403,"v":80},
      {"t":"2022-02-07T20:00Z","o":1.406,"h":1.412,"l":1.367,"c":1.368,"v":48},
      {"t":"2022-02-08T00:00Z","o":1.368,"h":1.400,"l":1.350,"c":1.389,"v":48},
      {"t":"2022-02-08T04:00Z","o":1.386,"h":1.500,"l":1.385,"c":1.421,"v":80},
      {"t":"2022-02-08T08:00Z","o":1.421,"h":1.422,"l":1.349,"c":1.350,"v":64},
      {"t":"2022-02-08T12:00Z","o":1.353,"h":1.354,"l":1.283,"c":1.305,"v":64},
      {"t":"2022-02-08T16:00Z","o":1.308,"h":1.309,"l":1.277,"c":1.280,"v":48},
      {"t":"2022-02-08T20:00Z","o":1.28425,"h":1.34775,"l":1.28025,"c":1.33125,"v":32.592}
    ]
  },
  "data": {"name": "bars"},
  "layer": [
    {
      "mark": {"type": "bar", "width": 4.2, "clip": true},
      "encoding": {
        "x": {
          "field": "t",
          "type": "temporal",
          "scale": {"type": "utc", "domain": [1640100960000, 1644667632000], "nice": false},
          "axis": {
            "values": [1640131200000, 1640347200000, 1640563200000, 1640779200000, 1640995200000, 1641254400000, 1641513600000, 1641772800000, 1642032000000, 1642377600000, 1642636800000, 1642982400000, 1643241600000, 1643457600000, 1643673600000, 1643932800000, 1644192000000, 1644451200000],
            "labelExpr": "utchours(datum.value) == 12 ? '12:00' : utcdate(datum.value) == 1 ? (utcmonth(datum.value) == 0 ? '2022' : utcFormat(datum.value, '%b')) : '' + utcdate(datum.value)",
            "labelFontWeight": {"condition": {"test": "utcmonth(datum.value) == 0 && utcdate(datum.value) == 1", "value": "bold"}, "value": "normal"},
            "offset": -27,
            "tickSize": 0,
            "labelPadding": 8,
            "labelFontSize": 11.5,
            "labelColor": "#131722",
            "labelOverlap": false,
            "labelFlush": false,
            "domainColor": "#e0e3eb",
            "grid": false,
            "title": "TradingView",
            "titleX": 22,
            "titleY": 46,
            "titleAlign": "left",
            "titleBaseline": "middle",
            "titleColor": "#d1d4dc",
            "titleFontSize": 13,
            "titleFontWeight": "bold"
          }
        },
        "y": {
          "field": "v",
          "type": "quantitative",
          "scale": {"domain": [-432, 13280], "nice": false, "zero": false},
          "axis": null
        },
        "y2": {"datum": 0},
        "color": {"condition": {"test": "datum.c >= datum.o", "value": "#93d3cd"}, "value": "#f7a9a8"}
      }
    },
    {
      "layer": [
        {
          "data": {"values": [{}]},
          "mark": {"type": "rule", "color": "#f23645", "strokeWidth": 1, "strokeDash": [1, 2]},
          "encoding": {"y": {"datum": 1.33125}}
        },
        {
          "mark": {"type": "rule", "strokeWidth": 1, "clip": true},
          "encoding": {
            "x": {"field": "t", "type": "temporal"},
            "y": {
              "field": "l",
              "type": "quantitative",
              "scale": {"type": "log", "domain": [0.53509, 3.3437], "nice": false, "zero": false},
              "axis": {
                "orient": "right",
                "offset": -62,
                "values": [0.575, 0.61575, 0.6595, 0.70325, 0.75, 0.8125, 0.875, 0.9375, 1, 1.09375, 1.1875, 1.375, 1.5, 1.625, 1.75, 1.875, 2.0625, 2.25, 2.5, 2.75, 3, 3.25],
                "format": ".5f",
                "tickSize": 0,
                "labelPadding": 9,
                "labelAlign": "left",
                "labelBaseline": "middle",
                "labelFontSize": 11.5,
                "labelColor": "#131722",
                "labelOverlap": false,
                "labelFlush": false,
                "labelBound": false,
                "domainColor": "#e0e3eb",
                "grid": false,
                "title": null
              }
            },
            "y2": {"field": "h"},
            "color": {"condition": {"test": "datum.c >= datum.o", "value": "#2962ff"}, "value": "#ef5350"}
          }
        },
        {
          "mark": {"type": "bar", "width": 3.2, "strokeWidth": 0.8, "clip": true},
          "encoding": {
            "x": {"field": "t", "type": "temporal"},
            "y": {"field": "o", "type": "quantitative"},
            "y2": {"field": "c"},
            "color": {"condition": {"test": "datum.c >= datum.o", "value": "#2962ff"}, "value": "#ef5350"},
            "stroke": {"condition": {"test": "datum.c >= datum.o", "value": "#2962ff"}, "value": "#ef5350"}
          }
        },
        {
          "data": {"values": [{}]},
          "mark": {"type": "rect", "color": "#f23645", "cornerRadius": 2},
          "encoding": {
            "x": {"datum": 1644373152000, "type": "temporal"},
            "x2": {"datum": 1644506496000},
            "y": {"datum": 1.3513},
            "y2": {"datum": 1.3059}
          }
        },
        {
          "data": {"values": [{}]},
          "mark": {"type": "text", "text": "JOEUSD", "color": "#ffffff", "fontSize": 12, "align": "center", "baseline": "middle"},
          "encoding": {
            "x": {"datum": 1644439824000, "type": "temporal"},
            "y": {"datum": 1.3284}
          }
        },
        {
          "data": {"values": [{}]},
          "mark": {"type": "rect", "color": "#f23645", "cornerRadius": 1},
          "encoding": {
            "x": {"datum": 1644511536000, "type": "temporal"},
            "x2": {"datum": 1644657552000},
            "y": {"datum": 1.3513},
            "y2": {"datum": 1.2666}
          }
        },
        {
          "data": {"values": [{}]},
          "mark": {"type": "text", "text": "1.33125", "color": "#ffffff", "fontSize": 11.5, "align": "left", "baseline": "middle"},
          "encoding": {
            "x": {"datum": 1644534144000, "type": "temporal"},
            "y": {"datum": 1.33125}
          }
        },
        {
          "data": {"values": [{}]},
          "mark": {"type": "text", "text": "43:20", "color": "#ffffff", "fontSize": 11.5, "align": "left", "baseline": "middle"},
          "encoding": {
            "x": {"datum": 1644534144000, "type": "temporal"},
            "y": {"datum": 1.2903}
          }
        },
        {
          "data": {"values": [{}]},
          "mark": {"type": "rect", "color": "#ffffff", "stroke": "#d1d4dc", "strokeWidth": 1, "cornerRadius": 4},
          "encoding": {
            "x": {"datum": 1644554880000, "type": "temporal"},
            "x2": {"datum": 1644622560000},
            "y": {"datum": 3.301},
            "y2": {"datum": 3.176}
          }
        },
        {
          "data": {"values": [{}]},
          "mark": {"type": "text", "text": "USD", "color": "#131722", "fontSize": 11.5, "align": "center", "baseline": "middle"},
          "encoding": {
            "x": {"datum": 1644588000000, "type": "temporal"},
            "y": {"datum": 3.24}
          }
        },
        {
          "data": {"values": [{}]},
          "mark": {"type": "text", "text": "JOE / USD, 4h, FTX", "color": "#131722", "fontSize": 11, "align": "left", "baseline": "middle"},
          "encoding": {"x": {"datum": 1640122344000, "type": "temporal"}, "y": {"datum": 3.245}}
        },
        {
          "data": {"values": [{}]},
          "mark": {"type": "text", "text": "O", "color": "#131722", "fontSize": 11.5, "align": "left", "baseline": "middle"},
          "encoding": {"x": {"datum": 1640387952000, "type": "temporal"}, "y": {"datum": 3.245}}
        },
        {
          "data": {"values": [{}]},
          "mark": {"type": "text", "text": "1.28425", "color": "#2962ff", "fontSize": 11.5, "align": "left", "baseline": "middle"},
          "encoding": {"x": {"datum": 1640410560000, "type": "temporal"}, "y": {"datum": 3.245}}
        },
        {
          "data": {"values": [{}]},
          "mark": {"type": "text", "text": "H", "color": "#131722", "fontSize": 11.5, "align": "left", "baseline": "middle"},
          "encoding": {"x": {"datum": 1640531376000, "type": "temporal"}, "y": {"datum": 3.245}}
        },
        {
          "data": {"values": [{}]},
          "mark": {"type": "text", "text": "1.34775", "color": "#2962ff", "fontSize": 11.5, "align": "left", "baseline": "middle"},
          "encoding": {"x": {"datum": 1640554128000, "type": "temporal"}, "y": {"datum": 3.245}}
        },
        {
          "data": {"values": [{}]},
          "mark": {"type": "text", "text": "L", "color": "#131722", "fontSize": 11.5, "align": "left", "baseline": "middle"},
          "encoding": {"x": {"datum": 1640674944000, "type": "temporal"}, "y": {"datum": 3.245}}
        },
        {
          "data": {"values": [{}]},
          "mark": {"type": "text", "text": "1.28025", "color": "#2962ff", "fontSize": 11.5, "align": "left", "baseline": "middle"},
          "encoding": {"x": {"datum": 1640692512000, "type": "temporal"}, "y": {"datum": 3.245}}
        },
        {
          "data": {"values": [{}]},
          "mark": {"type": "text", "text": "C", "color": "#131722", "fontSize": 11.5, "align": "left", "baseline": "middle"},
          "encoding": {"x": {"datum": 1640805840000, "type": "temporal"}, "y": {"datum": 3.245}}
        },
        {
          "data": {"values": [{}]},
          "mark": {"type": "text", "text": "1.33125", "color": "#2962ff", "fontSize": 11.5, "align": "left", "baseline": "middle"},
          "encoding": {"x": {"datum": 1640823408000, "type": "temporal"}, "y": {"datum": 3.245}}
        },
        {
          "data": {"values": [{}]},
          "mark": {"type": "text", "text": "+0.04700 (+3.66%)", "color": "#2962ff", "fontSize": 11.5, "align": "left", "baseline": "middle"},
          "encoding": {"x": {"datum": 1640954304000, "type": "temporal"}, "y": {"datum": 3.245}}
        },
        {
          "data": {"values": [{}]},
          "mark": {"type": "text", "text": "Vol", "color": "#131722", "fontSize": 11.5, "align": "left", "baseline": "middle"},
          "encoding": {"x": {"datum": 1640122344000, "type": "temporal"}, "y": {"datum": 3.132}}
        },
        {
          "data": {"values": [{}]},
          "mark": {"type": "text", "text": "32.592K", "color": "#26a69a", "fontSize": 11.5, "align": "left", "baseline": "middle"},
          "encoding": {"x": {"datum": 1640181456000, "type": "temporal"}, "y": {"datum": 3.132}}
        }
      ]
    }
  ],
  "resolve": {"scale": {"y": "independent"}},
  "config": {
    "font": "Liberation Sans",
    "view": {"fill": "#ffffff", "stroke": "#9598a1"}
  }
}
